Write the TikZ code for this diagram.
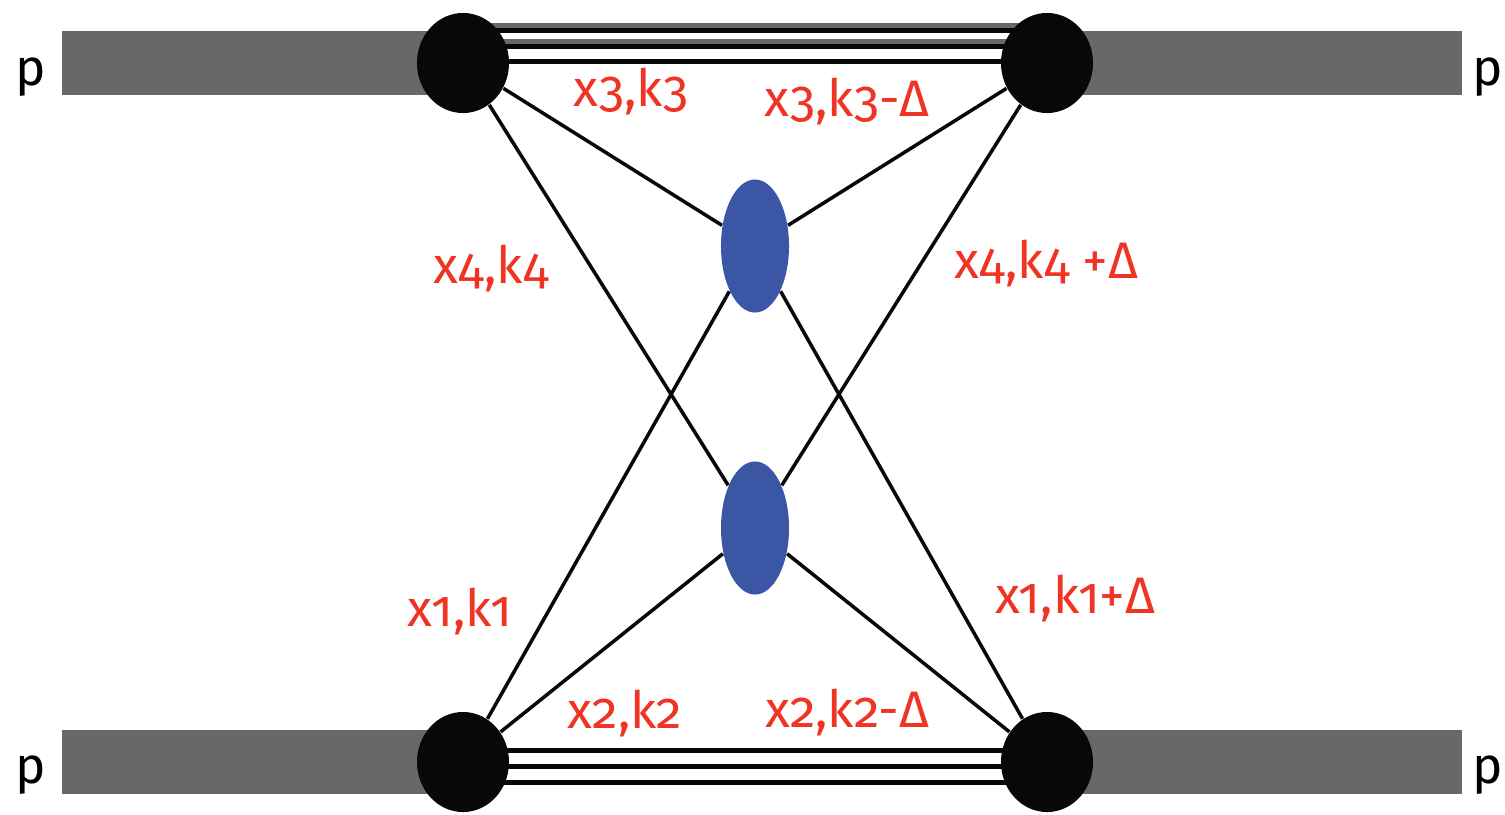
\documentclass[tikz,border=0pt]{standalone}
\usepackage{fontspec}
\newfontfamily\labelfont{Fira Sans}[Numbers=OldStyle]
\usetikzlibrary{shapes.geometric,backgrounds,calc}
\definecolor{barGray}{RGB}{105,103,103}
\definecolor{blobBlue}{RGB}{60,86,166}
\definecolor{labelRed}{RGB}{240,52,36}
\definecolor{vertexBlack}{RGB}{8,8,10}
\begin{document}
\begin{tikzpicture}[
    x=0.01cm, y=-0.01cm,
    vertexnode/.style={ellipse, fill=vertexBlack, minimum width=0.92cm, minimum height=1cm, inner sep=0pt},
    blobnode/.style={ellipse, fill=blobBlue, minimum width=0.68cm, minimum height=1.33cm, inner sep=0pt},
    labelnode/.style={text=labelRed, anchor=base, inner sep=0pt, font=\fontsize{14.6}{16}\selectfont, execute at begin node=\labelfont},
    pnode/.style={anchor=base, inner sep=0pt, font=\fontsize{14.6}{16}\selectfont, execute at begin node=\labelfont},
    bar/.style={barGray, line width=0.63cm},
    rung/.style={vertexBlack, line width=0.05cm},
    parton/.style={vertexBlack, line width=1pt}
  ]
  \useasboundingbox (0,0) rectangle (1505,814);

  %Nodes
  \node[vertexnode] at (463,63) (TL) {};
  \node[vertexnode] at (1047,63) (TR) {};
  \node[vertexnode] at (463,762) (BL) {};
  \node[vertexnode] at (1047,762) (BR) {};
  \node[blobnode] at (755,246) (U) {};
  \node[blobnode] at (755,528) (D) {};

  \coordinate (PTL) at (62,63);
  \coordinate (PTR) at (1462,63);
  \coordinate (PBL) at (62,762);
  \coordinate (PBR) at (1462,762);

  %Lines
  \begin{scope}[on background layer]
    \draw[bar] (PTL) -- (TL.center);
    \draw[bar] (TR.center) -- (PTR);
    \draw[bar] (PBL) -- (BL.center);
    \draw[bar] (BR.center) -- (PBR);

    \draw[rung, barGray, line width=0.1cm] ($(TL)+(0,-35)$) -- ($(TR)+(0,-35)$);
    \draw[rung] ($(TL)+(0,-33)$) -- ($(TR)+(0,-33)$);
    \draw[rung, barGray, line width=0.1cm] ($(TL)+(0,-19)$) -- ($(TR)+(0,-19)$);
    \draw[rung] ($(TL)+(0,-17)$) -- ($(TR)+(0,-17)$);
    \draw[rung] ($(TL)+(0,-2)$) -- ($(TR)+(0,-2)$);

    \draw[rung] ($(BL)+(0,-11.5)$) -- ($(BR)+(0,-11.5)$);
    \draw[rung] ($(BL)+(0,4.5)$) -- ($(BR)+(0,4.5)$);
    \draw[rung] ($(BL)+(0,20.5)$) -- ($(BR)+(0,20.5)$);

    \draw[parton] (TL) -- (U);
    \draw[parton] (TL) -- (D);
    \draw[parton] (TR) -- (U);
    \draw[parton] (TR) -- (D);
    \draw[parton] (BL) -- (U);
    \draw[parton] (BL) -- (D);
    \draw[parton] (BR) -- (U);
    \draw[parton] (BR) -- (D);
  \end{scope}

  %Labels
  \node[pnode] at (31,85) (pTL) {p};
  \node[pnode] at (1488,85) (pTR) {p};
  \node[pnode] at (31,783) (pBL) {p};
  \node[pnode] at (1488,783) (pBR) {p};

  \node[labelnode] at (631,106) (l3) {x3,k3};
  \node[labelnode] at (847,116) (l3d) {x3,k3-Δ};
  \node[labelnode] at (491,283) (l4) {x4,k4};
  \node[labelnode] at (1046,278) (l4d) {x4,k4 +Δ};
  \node[labelnode] at (460,626) (l1) {x1,k1};
  \node[labelnode] at (1075,613) (l1d) {x1,k1+Δ};
  \node[labelnode] at (625,728) (l2) {x2,k2};
  \node[labelnode] at (847,727) (l2d) {x2,k2-Δ};

\end{tikzpicture}
\end{document}
